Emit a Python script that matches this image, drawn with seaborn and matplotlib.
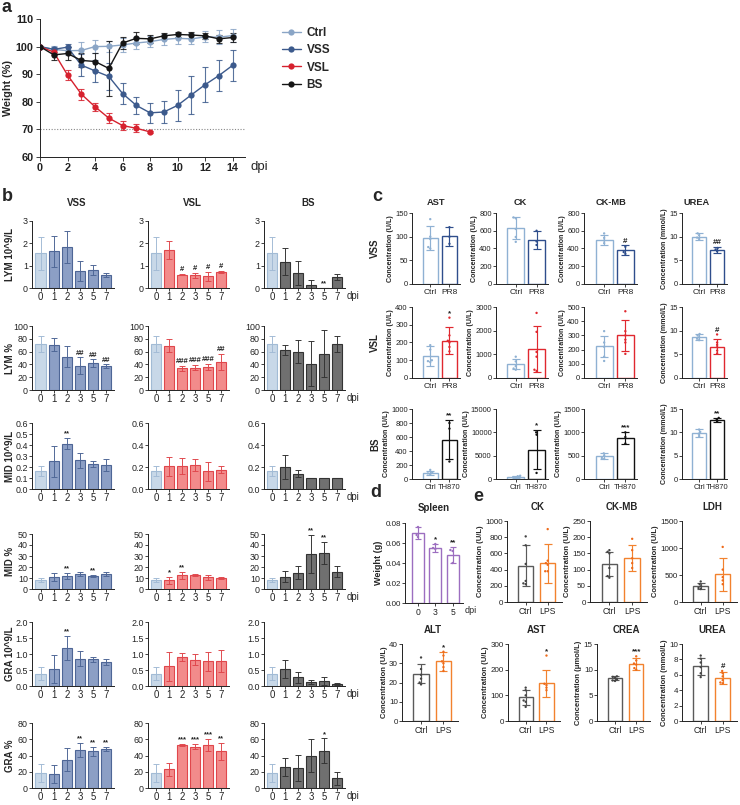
import matplotlib
matplotlib.use('Agg')
import matplotlib.pyplot as plt
from matplotlib.lines import Line2D
import numpy as np
import pandas as pd
import seaborn as sns

# ====================== DATA ======================
# ---- panel a : body weight (%) ----
a_days = list(range(15))
a_ctrl = [100, 99.0, 98.5, 98.6, 100.0, 100.1, 100.6, 101.3, 101.8, 102.6, 103.0, 102.8, 103.5, 103.4, 104.0]
a_ctrl_sd = [0, 1.2, 1.5, 3.0, 2.5, 2.0, 2.5, 2.0, 2.0, 2.0, 2.0, 2.0, 2.0, 2.5, 2.5]
a_vss = [100, 99.0, 99.8, 93.3, 91.2, 89.2, 83.0, 78.7, 76.0, 76.3, 78.7, 82.5, 86.2, 89.5, 93.2]
a_vss_sd = [0, 1.0, 1.2, 4.0, 4.0, 5.0, 3.8, 3.0, 3.6, 4.0, 5.5, 7.0, 6.3, 5.6, 5.5]
a_vsl_days = list(range(9))
a_vsl = [100, 98.0, 89.7, 82.8, 78.2, 74.1, 71.4, 70.4, 69.1]
a_vsl_sd = [0, 1.0, 1.8, 2.0, 1.5, 1.8, 1.5, 1.5, 0.5]
a_bs = [100, 97.0, 97.5, 95.0, 94.6, 92.1, 101.3, 103.0, 102.8, 103.9, 104.4, 104.2, 103.9, 102.8, 103.3]
a_bs_sd = [0, 2.0, 2.2, 2.5, 3.0, 10.0, 2.0, 2.2, 1.5, 1.0, 1.0, 1.0, 1.2, 1.5, 1.5]
a_groups = ['Ctrl', 'VSS', 'VSL', 'BS']

# ---- panel b : blood counts ----
b_days = ['0', '1', '2', '3', '5', '7']
b_groups = ['VSS', 'VSL', 'BS']
b_rows = ['LYM 10^9/L', 'LYM %', 'MID 10^9/L', 'MID %', 'GRA 10^9/L', 'GRA %']

lymn_vss = [1.55, 1.65, 1.82, 0.78, 0.80, 0.58]
lymn_vss_sd = [0.75, 0.70, 0.72, 0.45, 0.22, 0.10]
lymn_vsl = [1.55, 1.72, 0.60, 0.57, 0.52, 0.73]
lymn_vsl_sd = [0.75, 0.40, 0.03, 0.12, 0.20, 0.05]
lymn_bs = [1.55, 1.18, 0.67, 0.15, 0.0, 0.50]
lymn_bs_sd = [0.75, 0.60, 0.55, 0.22, 0.0, 0.12]

lymp_vss = [72, 71, 52, 38, 42, 37]
lymp_vss_sd = [13, 10, 16, 13, 6, 3]
lymp_vsl = [72, 69, 34, 35, 36, 44]
lymp_vsl_sd = [13, 10, 4, 4, 5, 12]
lymp_bs = [72, 62, 60, 41, 57, 72]
lymp_bs_sd = [13, 8, 18, 35, 37, 13]

midn_vss = [0.165, 0.25, 0.41, 0.26, 0.225, 0.215]
midn_vss_sd = [0.045, 0.14, 0.05, 0.07, 0.025, 0.055]
midn_vsl = [0.165, 0.205, 0.21, 0.215, 0.16, 0.175]
midn_vsl_sd = [0.045, 0.085, 0.07, 0.055, 0.085, 0.03]
midn_bs = [0.165, 0.20, 0.14, 0.10, 0.10, 0.10]
midn_bs_sd = [0.045, 0.11, 0.035, 0.0, 0.0, 0.0]

midp_vss = [8, 11, 12, 13.5, 12, 13.5]
midp_vss_sd = [2, 3.5, 3, 2, 1, 2]
midp_vsl = [8, 8, 12.5, 13, 10.5, 10]
midp_vsl_sd = [2, 3, 3, 1, 2, 0.8]
midp_bs = [8, 11, 15, 32, 33, 15.5]
midp_bs_sd = [2, 5, 6, 17, 10, 5]

gran_vss = [0.38, 0.53, 1.18, 0.85, 0.83, 0.75]
gran_vss_sd = [0.2, 0.45, 0.37, 0.23, 0.08, 0.10]
gran_vsl = [0.38, 0.62, 0.90, 0.82, 0.77, 0.78]
gran_vsl_sd = [0.2, 0.45, 0.12, 0.17, 0.30, 0.35]
gran_bs = [0.38, 0.53, 0.27, 0.12, 0.15, 0.06]
gran_bs_sd = [0.2, 0.27, 0.17, 0.07, 0.12, 0.04]

grap_vss = [19, 17, 35, 47, 45, 48]
grap_vss_sd = [11, 11, 14, 9, 5, 2]
grap_vsl = [19, 23, 53, 51, 53, 45]
grap_vsl_sd = [11, 8, 1, 3, 7, 11]
grap_bs = [19, 26, 25, 40, 46, 12]
grap_bs_sd = [11, 11, 16, 20, 15, 8]

lymn_vss_sig = ['', '', '', '', '', '']
lymn_vsl_sig = ['', '', '#', '#', '#', '#']
lymn_bs_sig = ['', '', '', '', '**', '']
lymp_vss_sig = ['', '', '', '##', '##', '##']
lymp_vsl_sig = ['', '', '###', '###', '###', '##']
lymp_bs_sig = ['', '', '', '', '', '']
midn_vss_sig = ['', '', '**', '', '', '']
midn_vsl_sig = ['', '', '', '', '', '']
midn_bs_sig = ['', '', '', '', '', '']
midp_vss_sig = ['', '', '**', '', '**', '']
midp_vsl_sig = ['', '*', '**', '', '', '']
midp_bs_sig = ['', '', '', '**', '**', '']
gran_vss_sig = ['', '', '**', '', '', '']
gran_vsl_sig = ['', '', '', '', '', '']
gran_bs_sig = ['', '', '', '', '', '']
grap_vss_sig = ['', '', '', '**', '**', '**']
grap_vsl_sig = ['', '', '***', '***', '***', '**']
grap_bs_sig = ['', '', '', '', '*', '']

# ---- panel c : serum biochemistry ----
c_tests = ['AST', 'CK', 'CK-MB', 'UREA']
c_rows = ['VSS', 'VSL', 'BS']
c_cats_pr8 = ['Ctrl', 'PR8']
c_cats_th = ['Ctrl', 'TH870']

vss_ast = [97, 101]; vss_ast_sd = [25, 20]
vss_ast_pts = [[137, 100, 95, 78, 75], [120, 100, 85]]
vss_ck = [635, 495]; vss_ck_sd = [125, 105]
vss_ck_pts = [[750, 740, 620, 530, 475], [600, 480, 440]]
vss_ckmb = [500, 380]; vss_ckmb_sd = [55, 55]
vss_ckmb_pts = [[570, 520, 490, 460], [420, 360, 340]]
vss_urea = [10.0, 7.2]; vss_urea_sd = [0.7, 0.7]
vss_urea_pts = [[10.7, 10.3, 9.8, 9.5], [7.6, 7.3, 6.9]]
vss_sig = ['', '', '#', '##']

vsl_ast = [125, 210]; vsl_ast_sd = [55, 75]
vsl_ast_pts = [[185, 160, 100, 95, 90], [340, 240, 210, 200, 175, 150]]
vsl_ck = [580, 1230]; vsl_ck_sd = [220, 980]
vsl_ck_pts = [[900, 700, 500, 400, 350], [2750, 1950, 1100, 900, 350, 300]]
vsl_ckmb = [222, 300]; vsl_ckmb_sd = [75, 110]
vsl_ckmb_pts = [[330, 250, 220, 150, 120], [470, 330, 300, 270, 250, 170]]
vsl_urea = [8.6, 6.6]; vsl_urea_sd = [0.6, 1.6]
vsl_urea_pts = [[9.3, 9.0, 8.6, 8.3, 8.0], [9.2, 7.5, 7.0, 6.5, 5.8, 5.2]]
vsl_sig = ['*', '', '', '#']

bs_ast = [90, 560]; bs_ast_sd = [30, 280]
bs_ast_pts = [[130, 90, 80, 70], [800, 720, 250]]
bs_ck = [500, 6300]; bs_ck_sd = [200, 4200]
bs_ck_pts = [[700, 600, 400, 300], [10000, 9500, 1300]]
bs_ckmb = [490, 880]; bs_ckmb_sd = [60, 120]
bs_ckmb_pts = [[550, 500, 450, 430], [1000, 900, 760]]
bs_urea = [9.9, 12.7]; bs_urea_sd = [0.8, 0.4]
bs_urea_pts = [[10.6, 10.1, 9.7, 9.2], [13.1, 12.8, 12.3]]
bs_sig = ['**', '*', '***', '**']

# ---- panel d : spleen weight ----
d_days = ['0', '3', '5']
d_spleen = [0.070, 0.055, 0.048]
d_spleen_sd = [0.006, 0.004, 0.008]
d_spleen_pts = [[0.076, 0.068, 0.066], [0.059, 0.055, 0.054], [0.053, 0.052, 0.040]]
d_sig = ['', '*', '**']

# ---- panel e : LPS biochemistry ----
e_cats = ['Ctrl', 'LPS']
e_ck = [450, 480]; e_ck_sd = [250, 240]
e_ck_pts = [[810, 700, 470, 260, 230, 220], [900, 510, 480, 460, 380, 380]]
e_ckmb = [116, 137]; e_ckmb_sd = [37, 40]
e_ckmb_pts = [[160, 155, 150, 105, 80, 75], [195, 160, 135, 120, 105]]
e_ldh = [295, 510]; e_ldh_sd = [60, 300]
e_ldh_pts = [[380, 330, 290, 260, 240], [1020, 600, 460, 400, 330]]
e_alt = [24.5, 31.0]; e_alt_sd = [5, 5]
e_alt_pts = [[33, 27, 24, 22, 20, 19], [36, 34, 31, 30, 28, 26]]
e_ast = [92, 147]; e_ast_sd = [28, 52]
e_ast_pts = [[130, 120, 100, 80, 75, 55], [255, 145, 140, 130, 120]]
e_crea = [8.3, 11.1]; e_crea_sd = [0.4, 1.2]
e_crea_pts = [[8.7, 8.6, 8.4, 8.1, 7.9, 7.8], [12.6, 11.8, 11.2, 11.0, 10.3, 10.0]]
e_urea = [7.1, 5.6]; e_urea_sd = [1.1, 0.8]
e_urea_pts = [[8.5, 8.1, 7.6, 7.0, 6.2, 5.7], [6.5, 6.2, 5.8, 5.3, 5.0, 4.9]]

# ====================== STYLE ======================
sns.set_theme(style='ticks')
plt.rcParams['font.family'] = ['Liberation Sans', 'DejaVu Sans']
plt.rcParams['axes.linewidth'] = 0.7
plt.rcParams['xtick.major.width'] = 0.6
plt.rcParams['ytick.major.width'] = 0.6
plt.rcParams['xtick.color'] = '#222222'
plt.rcParams['ytick.color'] = '#222222'
plt.rcParams['axes.edgecolor'] = '#222222'

W, H = 740, 805
fig = plt.figure(figsize=(W / 100, H / 100), dpi=100)
fig.patch.set_facecolor('white')


def px_axes(l, t, r, b):
    return fig.add_axes([l / W, 1 - b / H, (r - l) / W, (b - t) / H])


def ftext(x, y, s, **kw):
    return fig.text(x / W, 1 - y / H, s, **kw)


def bars(ax, cats, means, sds, fills, edges, ylim, yticks, ytl=None, pts=None,
         sig=None, xlim=None, width=0.8, lw=0.9, cap=2.5, ms=1.6, sigfs=5.5,
         xfs=6.0, yfs=5.5, pt_colors=None, xpad=1.5):
    df = pd.DataFrame({'cat': cats, 'val': means})
    sns.barplot(data=df, x='cat', y='val', hue='cat', order=cats, hue_order=cats,
                palette=dict(zip(cats, fills)), legend=False, errorbar=None,
                width=width, saturation=1, linewidth=lw, ax=ax)
    for p, ec in zip(ax.patches, edges):
        p.set_edgecolor(ec)
        p.set_linewidth(lw)
    for i, (m, s) in enumerate(zip(means, sds)):
        if s > 0:
            ax.errorbar(i, m, yerr=s, fmt='none', ecolor=edges[i], elinewidth=lw * 0.85,
                        capsize=cap, capthick=lw * 0.85, zorder=4)
    if pts is not None:
        rows = [(c, v) for c, vals in zip(cats, pts) for v in vals]
        pdf = pd.DataFrame(rows, columns=['cat', 'val'])
        pc = pt_colors if pt_colors is not None else edges
        sns.swarmplot(data=pdf, x='cat', y='val', hue='cat', order=cats, hue_order=cats,
                      palette=dict(zip(cats, pc)), size=ms, legend=False, ax=ax, zorder=5)
    if sig is not None:
        for i, t in enumerate(sig):
            if t:
                top = means[i] + sds[i]
                if pts is not None and len(pts[i]):
                    top = max(top, max(pts[i]))
                ax.annotate(t, xy=(i, top), xytext=(0, 0.5), textcoords='offset points',
                            ha='center', va='bottom', fontsize=sigfs, color='#222222',
                            fontweight='bold')
    ax.set_ylim(*ylim)
    ax.set_yticks(yticks)
    if ytl is not None:
        ax.set_yticklabels(ytl)
    if xlim is not None:
        ax.set_xlim(*xlim)
    ax.set_xlabel('')
    ax.set_ylabel('')
    sns.despine(ax=ax)
    ax.tick_params(axis='x', length=2, pad=xpad, labelsize=xfs)
    ax.tick_params(axis='y', length=2, pad=1, labelsize=yfs)
    ax.set_facecolor('none')


# ====================== PANEL A ======================
axa = px_axes(40, 19, 245, 157)
a_colors = {'Ctrl': '#8AA5C6', 'VSS': '#3C5A8C', 'VSL': '#D6212E', 'BS': '#151515'}
long_rows = []
for g, d, v in [('Ctrl', a_days, a_ctrl), ('VSS', a_days, a_vss),
                ('VSL', a_vsl_days, a_vsl), ('BS', a_days, a_bs)]:
    for di, vi in zip(d, v):
        long_rows.append((g, di, vi))
adf = pd.DataFrame(long_rows, columns=['group', 'day', 'weight'])
axa.axhline(70, ls=(0, (1, 1.5)), color='#888888', lw=0.8, zorder=0)
sns.lineplot(data=adf, x='day', y='weight', hue='group', hue_order=a_groups,
             palette=a_colors, marker='o', markersize=4.5, markeredgewidth=0,
             linewidth=1.0, errorbar=None, legend=False, ax=axa, zorder=3)
for g, d, v, s in [('Ctrl', a_days, a_ctrl, a_ctrl_sd), ('VSS', a_days, a_vss, a_vss_sd),
                   ('VSL', a_vsl_days, a_vsl, a_vsl_sd), ('BS', a_days, a_bs, a_bs_sd)]:
    axa.errorbar(d, v, yerr=s, fmt='none', ecolor=a_colors[g], elinewidth=0.8,
                 capsize=2, capthick=0.8, alpha=0.85, zorder=2)
axa.set_xlim(0, 14.9)
axa.set_ylim(60, 110)
axa.set_xticks(range(0, 15, 2))
axa.set_yticks(range(60, 111, 10))
axa.set_xlabel('')
axa.set_ylabel('Weight (%)', fontsize=7.8, fontweight='bold', labelpad=2)
sns.despine(ax=axa)
axa.tick_params(length=3, pad=1.5, labelsize=7.8)
for t in axa.get_xticklabels() + axa.get_yticklabels():
    t.set_fontweight('bold')
axa.annotate('dpi', xy=(1, 0), xycoords='axes fraction', xytext=(4, -3),
             textcoords='offset points', ha='left', va='top', fontsize=9.5)
handles = [Line2D([0], [0], color=a_colors[g], marker='o', markersize=4.5, lw=1.0,
                  markeredgewidth=0) for g in a_groups]
fig.legend(handles, a_groups, loc='upper left', bbox_to_anchor=(276 / W, 1 - 21 / H),
           frameon=False, prop={'weight': 'bold', 'size': 8.5}, handlelength=1.6,
           handletextpad=0.5, labelspacing=0.45, borderpad=0)

# ====================== PANEL B ======================
ctrl_fill, ctrl_edge = '#C8D8E8', '#A2BBD5'
grp_fill = {'VSS': '#8C9FC5', 'VSL': '#F28B8B', 'BS': '#707070'}
grp_edge = {'VSS': '#4E6696', 'VSL': '#E0474C', 'BS': '#333333'}
b_cols_x = [(32, 114), (148, 229), (264, 345)]
b_rows_y = [(221, 288), (326, 390), (423, 489), (534, 589), (622, 686), (723, 788)]
b_data = [
    (lymn_vss, lymn_vss_sd, lymn_vss_sig, lymn_vsl, lymn_vsl_sd, lymn_vsl_sig, lymn_bs, lymn_bs_sd, lymn_bs_sig),
    (lymp_vss, lymp_vss_sd, lymp_vss_sig, lymp_vsl, lymp_vsl_sd, lymp_vsl_sig, lymp_bs, lymp_bs_sd, lymp_bs_sig),
    (midn_vss, midn_vss_sd, midn_vss_sig, midn_vsl, midn_vsl_sd, midn_vsl_sig, midn_bs, midn_bs_sd, midn_bs_sig),
    (midp_vss, midp_vss_sd, midp_vss_sig, midp_vsl, midp_vsl_sd, midp_vsl_sig, midp_bs, midp_bs_sd, midp_bs_sig),
    (gran_vss, gran_vss_sd, gran_vss_sig, gran_vsl, gran_vsl_sd, gran_vsl_sig, gran_bs, gran_bs_sd, gran_bs_sig),
    (grap_vss, grap_vss_sd, grap_vss_sig, grap_vsl, grap_vsl_sd, grap_vsl_sig, grap_bs, grap_bs_sd, grap_bs_sig),
]
b_ylims = [(0, 3), (0, 100), (0, 0.6), (0, 50), (0, 2.0), (0, 80)]
b_yticks = [[0, 1, 2, 3], [0, 20, 40, 60, 80, 100], None, [0, 10, 20, 30, 40, 50],
            [0, 0.5, 1.0, 1.5, 2.0], [0, 20, 40, 60, 80]]
for r, (t, b) in enumerate(b_rows_y):
    row = b_data[r]
    for c, g in enumerate(b_groups):
        l, rr = b_cols_x[c]
        ax = px_axes(l, t, rr, b)
        means, sds, sig = row[3 * c], row[3 * c + 1], row[3 * c + 2]
        fills = [ctrl_fill] + [grp_fill[g]] * 5
        edges = [ctrl_edge] + [grp_edge[g]] * 5
        if r == 2:
            if c == 0:
                yt = [0, 0.1, 0.2, 0.3, 0.4, 0.5, 0.6]
            else:
                yt = [0, 0.2, 0.4, 0.6]
            ytl = ['%.1f' % v for v in yt]
        elif r == 4:
            yt = b_yticks[r]
            ytl = ['%.1f' % v for v in yt]
        else:
            yt = b_yticks[r]
            ytl = None
        bars(ax, b_days, means, sds, fills, edges, b_ylims[r], yt, ytl=ytl, sig=sig,
             xlim=(-0.65, 5.6), width=0.78, lw=0.8, cap=2.0, sigfs=5.5, xfs=6.9, yfs=6.4,
             xpad=1.0)
        if c == 2:
            ax.annotate('dpi', xy=(1, 0), xycoords='axes fraction', xytext=(1, -2),
                        textcoords='offset points', ha='left', va='top', fontsize=6.9)
        if r == 0:
            ftext((l + rr) / 2 + 4, 203, g, ha='center', va='center', fontsize=7,
                  fontweight='bold')
    ftext(10, (t + b) / 2, b_rows[r], rotation=90, ha='center', va='center',
          fontsize=7, fontweight='bold')

# ====================== PANEL C ======================
c_ctrl_edge = '#8FB1D3'
c_edge = {'VSS': '#2F4E8C', 'VSL': '#E0282F', 'BS': '#111111'}
c_cols_x = [(412, 460), (496, 548), (584, 637), (682, 727)]
c_title_x = [436, 520, 611, 697]
c_rows_y = [(213, 284), (307, 378), (409, 479)]
c_data = {
    'VSS': [(vss_ast, vss_ast_sd, vss_ast_pts), (vss_ck, vss_ck_sd, vss_ck_pts),
            (vss_ckmb, vss_ckmb_sd, vss_ckmb_pts), (vss_urea, vss_urea_sd, vss_urea_pts)],
    'VSL': [(vsl_ast, vsl_ast_sd, vsl_ast_pts), (vsl_ck, vsl_ck_sd, vsl_ck_pts),
            (vsl_ckmb, vsl_ckmb_sd, vsl_ckmb_pts), (vsl_urea, vsl_urea_sd, vsl_urea_pts)],
    'BS': [(bs_ast, bs_ast_sd, bs_ast_pts), (bs_ck, bs_ck_sd, bs_ck_pts),
           (bs_ckmb, bs_ckmb_sd, bs_ckmb_pts), (bs_urea, bs_urea_sd, bs_urea_pts)],
}
c_sigs = {'VSS': vss_sig, 'VSL': vsl_sig, 'BS': bs_sig}
c_ylims = {
    'VSS': [((0, 150), [0, 50, 100, 150]), ((0, 800), [0, 200, 400, 600, 800]),
            ((0, 800), [0, 200, 400, 600, 800]), ((0, 15), [0, 5, 10, 15])],
    'VSL': [((0, 400), [0, 100, 200, 300, 400]), ((0, 3000), [0, 1000, 2000, 3000]),
            ((0, 500), [0, 100, 200, 300, 400, 500]), ((0, 15), [0, 5, 10, 15])],
    'BS': [((0, 1000), [0, 200, 400, 600, 800, 1000]), ((0, 15000), [0, 5000, 10000, 15000]),
           ((0, 1500), [0, 500, 1000, 1500]), ((0, 15), [0, 5, 10, 15])],
}
c_row_label_y = [248, 343, 444]
for ri, g in enumerate(c_rows):
    t, b = c_rows_y[ri]
    cats = c_cats_th if g == 'BS' else c_cats_pr8
    for ci in range(4):
        l, rr = c_cols_x[ci]
        ax = px_axes(l, t, rr, b)
        means, sds, pts = c_data[g][ci]
        sig = ['', c_sigs[g][ci]]
        (yl, yt) = c_ylims[g][ci]
        bars(ax, cats, means, sds, ['white', 'white'], [c_ctrl_edge, c_edge[g]], yl, yt,
             pts=pts, sig=sig, xlim=(-0.95, 1.55), width=0.8, lw=1.0, cap=3.0, ms=1.7,
             sigfs=5.8, xfs=(5.4 if g == 'BS' else 6.0), yfs=5.5)
        unit = '(mmol/L)' if ci == 3 else '(U/L)'
        ax.set_ylabel('Concentration ' + unit, fontsize=5.1, fontweight='bold', labelpad=1)
        if ri == 0:
            ftext(c_title_x[ci], 202, c_tests[ci], ha='center', va='center',
                  fontsize=6.7, fontweight='bold')
    ftext(375, c_row_label_y[ri], g, rotation=90, ha='center', va='center',
          fontsize=7, fontweight='bold')

# ====================== PANEL D ======================
axd = px_axes(405, 523, 463, 603)
purple = '#9C6EC0'
bars(axd, d_days, d_spleen, d_spleen_sd, ['white'] * 3, [purple] * 3, (0, 0.08),
     [0, 0.02, 0.04, 0.06, 0.08], ytl=['0.00', '0.02', '0.04', '0.06', '0.08'],
     pts=d_spleen_pts, sig=d_sig, xlim=(-0.75, 2.6), width=0.7, lw=1.0, cap=2.5,
     ms=1.7, sigfs=5.8, xfs=6.2, yfs=5.8)
axd.set_ylabel('Weight (g)', fontsize=6.5, fontweight='bold', labelpad=1.5)
axd.annotate('dpi', xy=(1, 0), xycoords='axes fraction', xytext=(1, -2),
             textcoords='offset points', ha='left', va='top', fontsize=6.5)
ftext(434, 508, 'Spleen', ha='center', va='center', fontsize=7, fontweight='bold')

# ====================== PANEL E ======================
e_ctrl_edge, e_lps_edge = '#5A5A5A', '#F2822E'
e_ctrl_pt, e_lps_pt = '#444444', '#EE6A1A'
e_specs = [
    ('CK', e_ck, e_ck_sd, e_ck_pts, (0, 1000), [0, 200, 400, 600, 800, 1000], '(U/L)', '', (507, 521, 562, 602)),
    ('CK-MB', e_ckmb, e_ckmb_sd, e_ckmb_pts, (0, 250), [0, 50, 100, 150, 200, 250], '(U/L)', '', (590, 521, 647, 602)),
    ('LDH', e_ldh, e_ldh_sd, e_ldh_pts, (0, 1500), [0, 500, 1000, 1500], '(U/L)', '', (682, 521, 737, 602)),
    ('ALT', e_alt, e_alt_sd, e_alt_pts, (0, 40), [0, 10, 20, 30, 40], '(U/L)', '*', (402, 644, 458, 721)),
    ('AST', e_ast, e_ast_sd, e_ast_pts, (0, 300), [0, 100, 200, 300], '(U/L)', '*', (508, 644, 560, 721)),
    ('CREA', e_crea, e_crea_sd, e_crea_pts, (0, 15), [0, 5, 10, 15], '(\u03bcmol/L)', '***', (597, 644, 650, 721)),
    ('UREA', e_urea, e_urea_sd, e_urea_pts, (0, 10), [0, 2, 4, 6, 8, 10], '(mmol/L)', '#', (682, 644, 737, 721)),
]
for name, m, s, p, yl, yt, unit, sg, (l, t, rr, b) in e_specs:
    ax = px_axes(l, t, rr, b)
    bars(ax, e_cats, m, s, ['white', 'white'], [e_ctrl_edge, e_lps_edge], yl, yt, pts=p,
         sig=['', sg], xlim=(-0.85, 1.65), width=0.68, lw=1.0, cap=3.0, ms=1.7,
         sigfs=5.8, xfs=6.2, yfs=5.8, pt_colors=[e_ctrl_pt, e_lps_pt])
    ax.set_ylabel('Concentration ' + unit, fontsize=5.5, fontweight='bold', labelpad=1)
    ftext(l + (rr - l) * 0.55, t - 14, name, ha='center', va='center', fontsize=7,
          fontweight='bold')

# ====================== PANEL LETTERS ======================
for s, x, y in [('a', 2, 8), ('b', 2, 196), ('c', 372, 196), ('d', 370, 492), ('e', 473, 496)]:
    ftext(x, y, s, ha='left', va='center', fontsize=13, fontweight='bold')

fig.savefig('out.png', dpi=100, facecolor='white')
